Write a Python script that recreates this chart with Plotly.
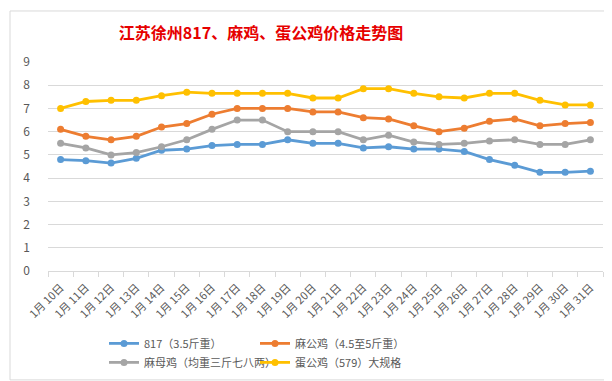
import plotly.graph_objects as go

dates = [f"1月 {d}日" for d in range(10, 32)]
s817 = [4.8, 4.75, 4.65, 4.85, 5.2, 5.25, 5.4, 5.45, 5.45, 5.65, 5.5,
        5.5, 5.3, 5.35, 5.25, 5.25, 5.15, 4.8, 4.55, 4.25, 4.25, 4.3]
mgj = [6.1, 5.8, 5.65, 5.8, 6.2, 6.35, 6.75, 7.0, 7.0, 7.0, 6.85,
       6.85, 6.6, 6.55, 6.25, 6.0, 6.15, 6.45, 6.55, 6.25, 6.35, 6.4]
mmj = [5.5, 5.3, 5.0, 5.1, 5.35, 5.65, 6.1, 6.5, 6.5, 6.0, 6.0,
       6.0, 5.65, 5.85, 5.55, 5.45, 5.5, 5.6, 5.65, 5.45, 5.45, 5.65]
dgj = [7.0, 7.3, 7.35, 7.35, 7.55, 7.7, 7.65, 7.65, 7.65, 7.65, 7.45,
       7.45, 7.85, 7.85, 7.65, 7.5, 7.45, 7.65, 7.65, 7.35, 7.15, 7.15]

names = ["817（3.5斤重）", "麻公鸡（4.5至5斤重）", "麻母鸡（均重三斤七八两）", "蛋公鸡（579）大规格"]
colors = ["#5B9BD5", "#ED7D31", "#A5A5A5", "#FFC000"]
series = [s817, mgj, mmj, dgj]
legend_ids = ["legend", "legend2", "legend", "legend2"]

fig = go.Figure()
for n, c, v, lg in zip(names, colors, series, legend_ids):
    fig.add_trace(go.Scatter(x=dates, y=v, name=n, mode="lines+markers",
                             line=dict(color=c, width=2.8),
                             marker=dict(color=c, size=7), legend=lg))

W, H = 612, 381
L, R, T, B = 40, 17, 54, 114
pw, ph = W - L - R, H - T - B

def px(x):
    return (x - L) / pw

def py(y):
    return (H - B - y) / ph

fig.add_shape(type="rect", xref="paper", yref="paper",
              x0=px(2), x1=px(608), y0=py(378), y1=py(2),
              line=dict(color="#D9D9D9", width=1), fillcolor="rgba(0,0,0,0)", layer="below")

leg_common = dict(orientation="v", yanchor="top", font=dict(size=11, color="#595959"),
                  itemwidth=30, tracegroupgap=0, traceorder="normal",
                  bgcolor="rgba(0,0,0,0)", borderwidth=0)

fig.update_layout(
    width=W, height=H,
    margin=dict(l=L, r=R, t=T, b=B),
    paper_bgcolor="white", plot_bgcolor="white",
    font=dict(family="Noto Sans CJK SC, Microsoft YaHei, sans-serif", color="#595959"),
    title=dict(text="<b>江苏徐州817、麻鸡、蛋公鸡价格走势图</b>",
               x=253 / W, xanchor="center", y=1 - 25 / H, yanchor="middle",
               font=dict(size=16, color="#E60000",
                         family="Noto Sans CJK SC, sans-serif")),
    showlegend=True,
    legend=dict(x=px(96), xanchor="left", y=py(326), **leg_common),
    legend2=dict(x=px(247), xanchor="left", y=py(326), **leg_common),
    xaxis=dict(showgrid=False, showline=True, linecolor="#D9D9D9", linewidth=1,
               ticks="outside", tickson="boundaries", tickcolor="#D9D9D9", ticklen=5,
               tickangle=-45, tickfont=dict(size=11, color="#595959"),
               ticklabelstandoff=5,
               range=[-0.5, len(dates) - 0.5], fixedrange=True),
    yaxis=dict(range=[0, 9], dtick=1, showgrid=True, gridcolor="#D9D9D9", gridwidth=1,
               zeroline=False, showline=False, tickfont=dict(size=12, color="#595959"),
               ticks="", ticklabelstandoff=17, fixedrange=True),
)

fig.write_html("out.html")
